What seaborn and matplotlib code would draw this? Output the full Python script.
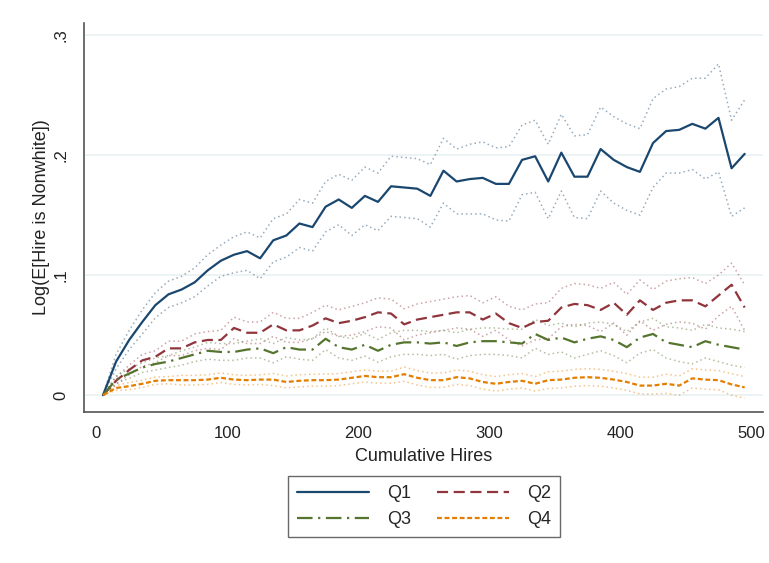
import matplotlib
matplotlib.use("Agg")
import matplotlib.pyplot as plt
from matplotlib.lines import Line2D
import numpy as np
import pandas as pd
import seaborn as sns

# Cumulative hires at which the effect is estimated
hires = [5, 15, 25, 35, 45, 55, 65, 75, 85, 95,
         105, 115, 125, 135, 145, 155, 165, 175, 185, 195,
         205, 215, 225, 235, 245, 255, 265, 275, 285, 295,
         305, 315, 325, 335, 345, 355, 365, 375, 385, 395,
         405, 415, 425, 435, 445, 455, 465, 475, 485, 495]

# Point estimates by quartile
q1 = [0.0, 0.028, 0.046, 0.061, 0.075, 0.084, 0.088, 0.094, 0.104, 0.112,
      0.117, 0.120, 0.114, 0.129, 0.133, 0.143, 0.140, 0.157, 0.163, 0.156,
      0.166, 0.161, 0.174, 0.173, 0.172, 0.166, 0.187, 0.178, 0.180, 0.181,
      0.176, 0.176, 0.196, 0.199, 0.178, 0.202, 0.182, 0.182, 0.205, 0.196,
      0.190, 0.186, 0.210, 0.220, 0.221, 0.226, 0.222, 0.231, 0.189, 0.201]
q2 = [0.0, 0.012, 0.021, 0.029, 0.032, 0.039, 0.039, 0.044, 0.046, 0.046,
      0.056, 0.052, 0.052, 0.059, 0.054, 0.054, 0.058, 0.064, 0.060, 0.062,
      0.065, 0.069, 0.068, 0.059, 0.063, 0.065, 0.067, 0.069, 0.069, 0.063,
      0.068, 0.060, 0.056, 0.061, 0.062, 0.073, 0.076, 0.075, 0.071, 0.077,
      0.067, 0.079, 0.071, 0.077, 0.079, 0.079, 0.074, 0.083, 0.092, 0.073]
q3 = [0.0, 0.013, 0.018, 0.023, 0.026, 0.028, 0.031, 0.034, 0.037, 0.036,
      0.036, 0.038, 0.039, 0.035, 0.040, 0.038, 0.038, 0.047, 0.040, 0.038,
      0.042, 0.037, 0.042, 0.044, 0.044, 0.043, 0.044, 0.041, 0.044, 0.045,
      0.045, 0.044, 0.043, 0.051, 0.046, 0.048, 0.044, 0.047, 0.049, 0.046,
      0.040, 0.048, 0.051, 0.044, 0.042, 0.040, 0.045, 0.042, 0.040, 0.038]
q4 = [0.0, 0.006, 0.0075, 0.0095, 0.012, 0.0125, 0.0125, 0.0125, 0.013, 0.0145,
      0.013, 0.0125, 0.013, 0.013, 0.011, 0.012, 0.0125, 0.0125, 0.013, 0.0145,
      0.016, 0.015, 0.015, 0.0175, 0.0145, 0.0125, 0.0125, 0.015, 0.014, 0.011,
      0.0095, 0.011, 0.012, 0.0095, 0.0125, 0.013, 0.0145, 0.015, 0.0145, 0.013,
      0.011, 0.008, 0.008, 0.0095, 0.008, 0.014, 0.013, 0.0125, 0.009, 0.0065]

# Half-widths of the 95% confidence intervals
ci1 = [0.0, 0.006, 0.008, 0.010, 0.0105, 0.011, 0.011, 0.012, 0.013, 0.013,
       0.015, 0.016, 0.017, 0.018, 0.018, 0.020, 0.020, 0.021, 0.021, 0.023,
       0.024, 0.024, 0.025, 0.025, 0.025, 0.026, 0.027, 0.027, 0.029, 0.030,
       0.030, 0.031, 0.029, 0.030, 0.031, 0.032, 0.034, 0.035, 0.035, 0.036,
       0.036, 0.036, 0.037, 0.035, 0.036, 0.038, 0.042, 0.045, 0.040, 0.045]
ci2 = [0.0, 0.003, 0.004, 0.005, 0.005, 0.006, 0.006, 0.007, 0.007, 0.008,
       0.009, 0.009, 0.009, 0.010, 0.010, 0.010, 0.011, 0.011, 0.011, 0.012,
       0.012, 0.012, 0.012, 0.013, 0.013, 0.013, 0.013, 0.013, 0.014, 0.014,
       0.014, 0.014, 0.015, 0.015, 0.015, 0.016, 0.017, 0.017, 0.018, 0.017,
       0.017, 0.017, 0.017, 0.018, 0.018, 0.019, 0.019, 0.017, 0.018, 0.019]
ci3 = [0.0, 0.003, 0.004, 0.004, 0.005, 0.005, 0.006, 0.006, 0.007, 0.007,
       0.007, 0.007, 0.008, 0.008, 0.008, 0.008, 0.009, 0.009, 0.009, 0.009,
       0.0095, 0.0095, 0.010, 0.010, 0.010, 0.010, 0.010, 0.011, 0.011, 0.011,
       0.011, 0.011, 0.012, 0.012, 0.012, 0.012, 0.013, 0.013, 0.012, 0.013,
       0.013, 0.013, 0.013, 0.013, 0.014, 0.014, 0.014, 0.014, 0.015, 0.015]
ci4 = [0.0, 0.002, 0.003, 0.003, 0.003, 0.003, 0.004, 0.004, 0.004, 0.004,
       0.004, 0.004, 0.004, 0.005, 0.005, 0.005, 0.005, 0.005, 0.005, 0.005,
       0.005, 0.005, 0.005, 0.006, 0.006, 0.006, 0.006, 0.006, 0.006, 0.006,
       0.006, 0.006, 0.006, 0.006, 0.007, 0.007, 0.007, 0.007, 0.007, 0.007,
       0.007, 0.007, 0.007, 0.008, 0.008, 0.008, 0.008, 0.008, 0.009, 0.009]

labels = ["Q1", "Q2", "Q3", "Q4"]
x_ticks = [0, 100, 200, 300, 400, 500]
y_ticks = [0, 0.1, 0.2, 0.3]
y_ticklabels = ["0", ".1", ".2", ".3"]

colors = ["#1a476f", "#90353b", "#55752f", "#e37e00"]
styles = ["-", (0, (5, 2.5)), (0, (7, 2.5, 1, 2.5)), (0, (2.2, 1.2))]

sns.set_style("white")
plt.rcParams["font.family"] = ["Liberation Sans Narrow", "Liberation Sans", "DejaVu Sans"]

fig = plt.figure(figsize=(7.69, 5.63), dpi=100)
ax = fig.add_axes([84 / 769, 1 - 412 / 563, (763 - 84) / 769, (412 - 23) / 563])

for yv in y_ticks:
    ax.axhline(yv, color="#eaf2f3", lw=1.3, zorder=0)

series = [q1, q2, q3, q4]
cis = [ci1, ci2, ci3, ci4]
handles = {}
for est, ci, lab, col, ls in zip(series, cis, labels, colors, styles):
    df = pd.DataFrame({"hires": hires, "est": est, "ci": ci})
    df["lo"] = df["est"] - df["ci"]
    df["hi"] = df["est"] + df["ci"]
    for bound in ["lo", "hi"]:
        sns.lineplot(data=df, x="hires", y=bound, ax=ax, color=col, lw=1.1,
                     alpha=0.45, linestyle=(0, (1, 2)), legend=False, zorder=2)
    sns.lineplot(data=df, x="hires", y="est", ax=ax, color=col, lw=1.6,
                 linestyle=ls, legend=False, zorder=3)
    handles[lab] = Line2D([], [], color=col, lw=1.6, linestyle=ls, label=lab)

ax.set_xlim(-9.5, 509)
ax.set_ylim(-0.014, 0.31)
ax.set_xticks(x_ticks)
ax.set_yticks(y_ticks)
ax.set_yticklabels(y_ticklabels, rotation=90, va="center")
ax.tick_params(axis="both", direction="out", length=5, width=1, color="#333333",
               labelsize=12, labelcolor="#222222", pad=5)
ax.tick_params(axis="y", pad=6)

for side in ["top", "right"]:
    ax.spines[side].set_visible(False)
for side in ["left", "bottom"]:
    ax.spines[side].set_color("#555555")
    ax.spines[side].set_linewidth(1.2)

ax.set_xlabel("Cumulative Hires", fontsize=13, color="#222222", labelpad=5)
ax.set_ylabel("Log(E[Hire is Nonwhite])", fontsize=13, color="#222222", labelpad=3)

# legend laid out row-wise: Q1 Q2 / Q3 Q4
order = ["Q1", "Q3", "Q2", "Q4"]
leg = fig.legend(handles=[handles[k] for k in order], loc="upper center", ncol=2,
                 bbox_to_anchor=(424 / 769, 1 - 476 / 563), borderaxespad=0,
                 frameon=True, fancybox=False, fontsize=13, handlelength=4.0,
                 columnspacing=1.4, handletextpad=1.0, borderpad=0.5,
                 labelspacing=0.5)
leg.get_frame().set_edgecolor("#444444")
leg.get_frame().set_linewidth(1.0)

fig.savefig("out.png", dpi=100, facecolor="white")
